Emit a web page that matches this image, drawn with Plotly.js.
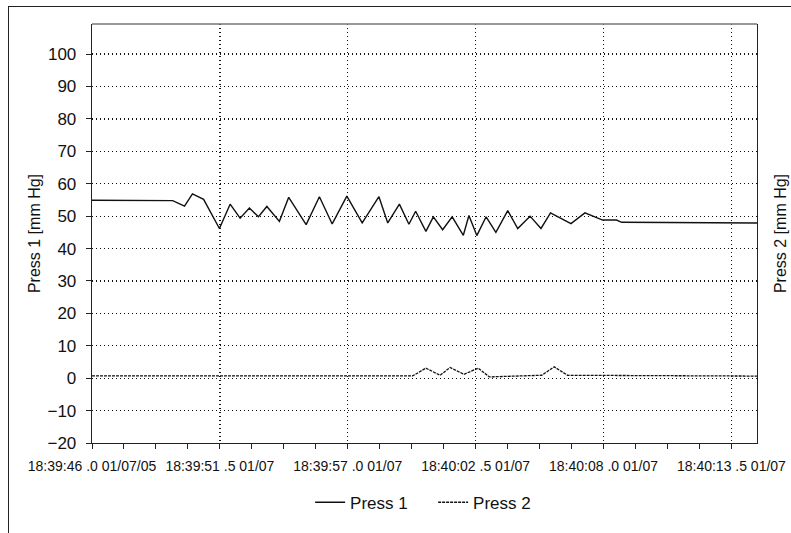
<!DOCTYPE html>
<html>
<head>
<meta charset="utf-8">
<script src="https://cdn.plot.ly/plotly-3.0.1.min.js"></script>
<style>
  html, body { margin: 0; padding: 0; background: #fff; overflow: hidden; }
  #wrap { position: relative; width: 791px; height: 533px; }
  #chart { position: absolute; left: 0; top: 0; width: 791px; height: 533px; }
  #frame { position: absolute; left: 8px; top: 6px; width: 900px; height: 600px;
           border-left: 1.5px solid #222; border-top: 1.5px solid #222; pointer-events: none; }
</style>
</head>
<body>
<div id="wrap">
  <div id="chart"></div>
  <div id="frame"></div>
</div>
<script>
// Seconds after 18:39:46.0 on 01/07/05
var press1Seconds = [0, 3.47, 3.98, 4.32, 4.80, 5.48, 5.94, 6.37, 6.77, 7.16, 7.52, 8.06, 8.46, 9.21, 9.78,
  10.33, 10.96, 11.62, 12.34, 12.72, 13.22, 13.63, 13.92, 14.36, 14.68, 15.08, 15.49, 15.97, 16.21,
  16.55, 16.95, 17.37, 17.88, 18.31, 18.84, 19.31, 19.72, 20.60, 21.20, 21.96, 22.56, 22.78, 28.6];
var press1Values = [54.9, 54.8, 53.1, 56.9, 55.2, 46.2, 53.7, 49.4, 52.5, 49.8, 53.0, 48.4, 55.8, 47.4, 56.0,
  47.6, 56.2, 47.9, 56.0, 47.9, 53.7, 47.5, 51.5, 45.3, 49.8, 45.8, 49.8, 44.1, 50.2,
  44.0, 49.8, 45.0, 51.7, 46.2, 50.0, 46.2, 51.0, 47.7, 51.0, 48.8, 48.8, 48.1, 47.9];

var press2Seconds = [0, 13.79, 14.36, 14.97, 15.40, 16.0, 16.61, 17.09, 19.34, 19.88, 20.45, 28.6];
var press2Values = [0.7, 0.7, 3.1, 0.9, 3.3, 1.2, 3.1, 0.4, 0.9, 3.5, 0.9, 0.65];

var tickSeconds = [0, 5.5, 11, 16.5, 22, 27.5];
var tickLabels = ["18:39:46 .0 01/07/05", "18:39:51 .5 01/07", "18:39:57 .0 01/07",
  "18:40:02 .5 01/07", "18:40:08 .0 01/07", "18:40:13 .5 01/07"];

var xRange = [0, 28.6];
var yRange = [-20, 109.3];

var minorTicks = [];
for (var i = 0; i * 1.375 <= xRange[1]; i++) minorTicks.push(i * 1.375);

var FONT = '"Liberation Sans", Arial, sans-serif';

var traces = [
  { x: press1Seconds, y: press1Values, name: 'Press 1', type: 'scatter', mode: 'lines',
    line: { color: '#111', width: 1.4 }, yaxis: 'y' },
  { x: press2Seconds, y: press2Values, name: 'Press 2', type: 'scatter', mode: 'lines',
    line: { color: '#111', width: 1.3, dash: '3px,1px' }, yaxis: 'y2' }
];

var layout = {
  width: 791, height: 533,
  margin: { l: 92, r: 34, t: 24, b: 88 },
  paper_bgcolor: '#fff', plot_bgcolor: '#fff',
  font: { family: FONT, color: '#111', size: 16 },
  showlegend: true,
  legend: { orientation: 'h', x: 0.328, xanchor: 'left', y: -0.1425, yanchor: 'middle',
            entrywidth: 78, entrywidthmode: 'pixels',
            font: { family: FONT, size: 17, color: '#111' }, itemwidth: 30, traceorder: 'normal' },
  xaxis: {
    range: xRange, tickmode: 'array', tickvals: tickSeconds, ticktext: tickLabels, tickangle: 0,
    showline: true, linecolor: '#222', linewidth: 1.3, mirror: false,
    ticks: 'outside', ticklen: 5, tickcolor: '#222', tickwidth: 1,
    showgrid: true, gridcolor: '#111', gridwidth: 1.3, griddash: '1.3px,2.7px',
    zeroline: false, ticklabelstandoff: 5,
    tickfont: { family: FONT, size: 14, color: '#111' },
    minor: { tickmode: 'array', tickvals: minorTicks, ticks: 'outside', ticklen: 5, tickcolor: '#222', showgrid: false }
  },
  yaxis: {
    range: yRange, tickmode: 'linear', tick0: -20, dtick: 10,
    showline: true, linecolor: '#222', linewidth: 1.3,
    ticks: 'outside', ticklen: 5, tickcolor: '#222',
    showgrid: true, gridcolor: '#111', gridwidth: 1.3, griddash: '1.3px,2.7px',
    zeroline: false, ticklabelstandoff: 6,
    tickfont: { family: FONT, size: 17, color: '#111' },
    title: { text: 'Press 1 [mm Hg]', font: { family: FONT, size: 16, color: '#111' }, standoff: 3 }
  },
  yaxis2: {
    range: yRange, overlaying: 'y', side: 'right', anchor: 'x',
    showline: true, linecolor: '#222', linewidth: 1.3,
    showticklabels: false, ticks: '', showgrid: false, zeroline: false,
    title: { text: 'Press 2 [mm Hg]', font: { family: FONT, size: 16, color: '#111' }, standoff: 17 }
  },
  shapes: [
    { type: 'line', xref: 'paper', yref: 'paper', x0: 0, x1: 1, y0: 1, y1: 1,
      line: { color: '#777', width: 1.3 } }
  ]
};

Plotly.newPlot('chart', traces, layout, { displayModeBar: false, staticPlot: true });
</script>
</body>
</html>
